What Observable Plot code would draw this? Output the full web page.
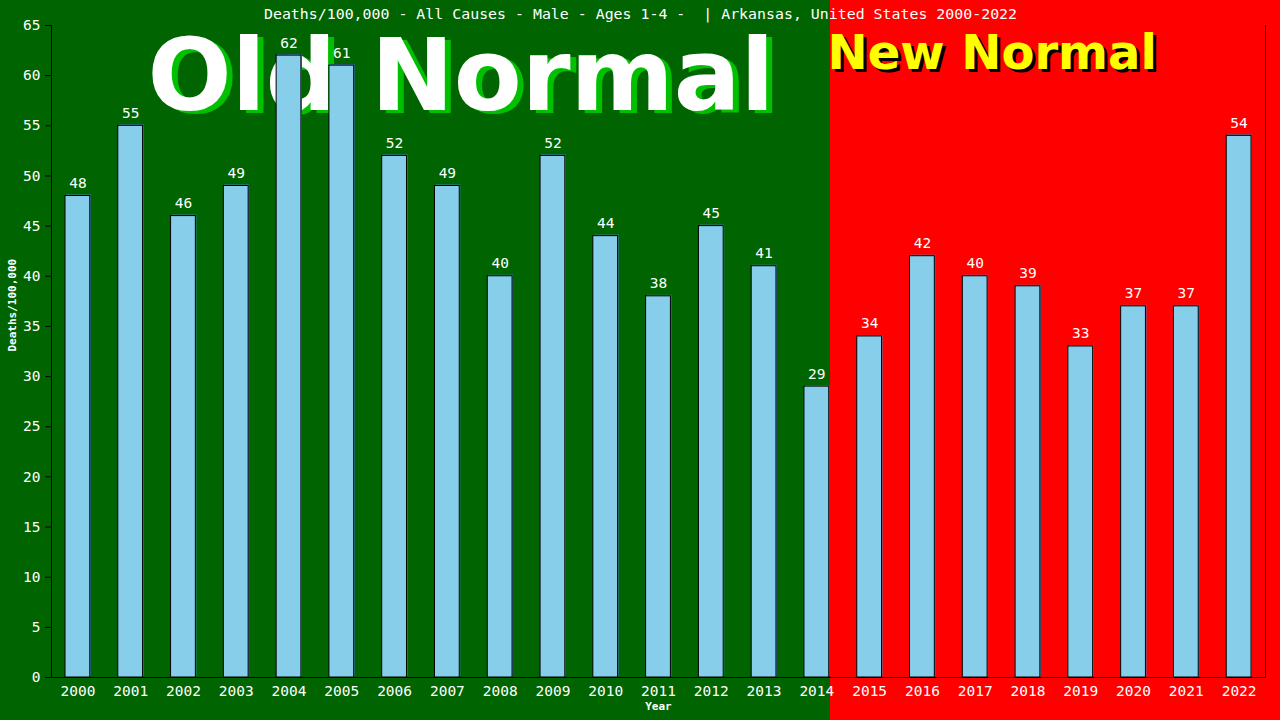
<!DOCTYPE html>
<html>
<head>
<meta charset="utf-8">
<script src="https://cdn.jsdelivr.net/npm/d3@7"></script>
<script src="https://cdn.jsdelivr.net/npm/@observablehq/plot@0.6"></script>
<style>
  html, body { margin: 0; padding: 0; background: #006400; }
  svg text { white-space: pre; }
</style>
</head>
<body>
<div id="chart"></div>
<script>
const years = ["2000","2001","2002","2003","2004","2005","2006","2007","2008","2009","2010","2011",
  "2012","2013","2014","2015","2016","2017","2018","2019","2020","2021","2022"];
const deaths = [48,55,46,49,62,61,52,49,40,52,44,38,45,41,29,34,42,40,39,33,37,37,54];
const yTicks = [0,5,10,15,20,25,30,35,40,45,50,55,60,65];
const title = "Deaths/100,000 - All Causes - Male - Ages 1-4 -  | Arkansas, United States 2000-2022";
const yLabel = "Deaths/100,000";
const xLabel = "Year";
const oldLabel = "Old Normal";
const newLabel = "New Normal";

const data = years.map((year, i) => ({year, value: deaths[i]}));

const chart = Plot.plot({
  width: 1280,
  height: 720,
  marginLeft: 51,
  marginRight: 15,
  marginTop: 25,
  marginBottom: 43,
  style: {
    background: "linear-gradient(to right, #006400 0px, #006400 830px, #ff0000 830px, #ff0000 1280px)",
    color: "white",
    fontFamily: "'DejaVu Sans Mono', monospace",
    fontSize: "14.5px",
    overflow: "visible"
  },
  x: {domain: years, padding: 0, round: false, label: null},
  y: {domain: [0, 65], label: null},
  marks: [
    // Old Normal
    Plot.text([oldLabel], {frameAnchor: "top-left", text: d => d, dx: 102, dy: 87, lineAnchor: "bottom", textAnchor: "start",
      fontFamily: "DejaVu Sans", fontWeight: "bold", fontSize: 99, fill: "#00c000"}),
    Plot.text([oldLabel], {frameAnchor: "top-left", text: d => d, dx: 96, dy: 84, lineAnchor: "bottom", textAnchor: "start",
      fontFamily: "DejaVu Sans", fontWeight: "bold", fontSize: 99, fill: "white"}),
    // New Normal
    Plot.text([newLabel], {frameAnchor: "top-left", text: d => d, dx: 779, dy: 46, lineAnchor: "bottom", textAnchor: "start",
      fontFamily: "DejaVu Sans", fontWeight: "bold", fontSize: 48, fill: "black"}),
    Plot.text([newLabel], {frameAnchor: "top-left", text: d => d, dx: 776, dy: 43, lineAnchor: "bottom", textAnchor: "start",
      fontFamily: "DejaVu Sans", fontWeight: "bold", fontSize: 48, fill: "#ffff00"}),
    // Title
    Plot.text([title], {frameAnchor: "top", text: d => d, dx: -18, dy: -7, lineAnchor: "bottom", fill: "white", fontSize: 14.9}),
    // bars
    Plot.barY(data, {x: "year", y: "value", insetLeft: 14, insetRight: 14, fill: "#4682b4", dx: 1, dy: -1}),
    Plot.barY(data, {x: "year", y: "value", insetLeft: 14, insetRight: 14, fill: "#87ceeb", stroke: "black", strokeWidth: 1}),
    Plot.text(data, {x: "year", y: "value", text: d => String(d.value), dy: -8, lineAnchor: "bottom", fill: "white", fontSize: 14.5}),
    // axes
    Plot.axisY({ticks: yTicks, tickSize: 6, tickPadding: 5, stroke: "black", fill: "white", label: null, tickFormat: d => String(d)}),
    Plot.axisX({tickSize: 0, tickPadding: 8, fill: "white", label: null}),
    Plot.frame({anchor: "left", stroke: "black"}),
    Plot.frame({anchor: "right", stroke: "black"}),
    Plot.ruleY([0], {stroke: "black"}),
    // axis labels
    Plot.text([yLabel], {frameAnchor: "left", text: d => d, dx: -39, rotate: -90, fill: "white", fontWeight: "bold", fontSize: 11}),
    Plot.text([xLabel], {frameAnchor: "bottom", text: d => d, dy: 32, fill: "white", fontWeight: "bold", fontSize: 11})
  ]
});
document.getElementById("chart").appendChild(chart);
</script>
</body>
</html>
